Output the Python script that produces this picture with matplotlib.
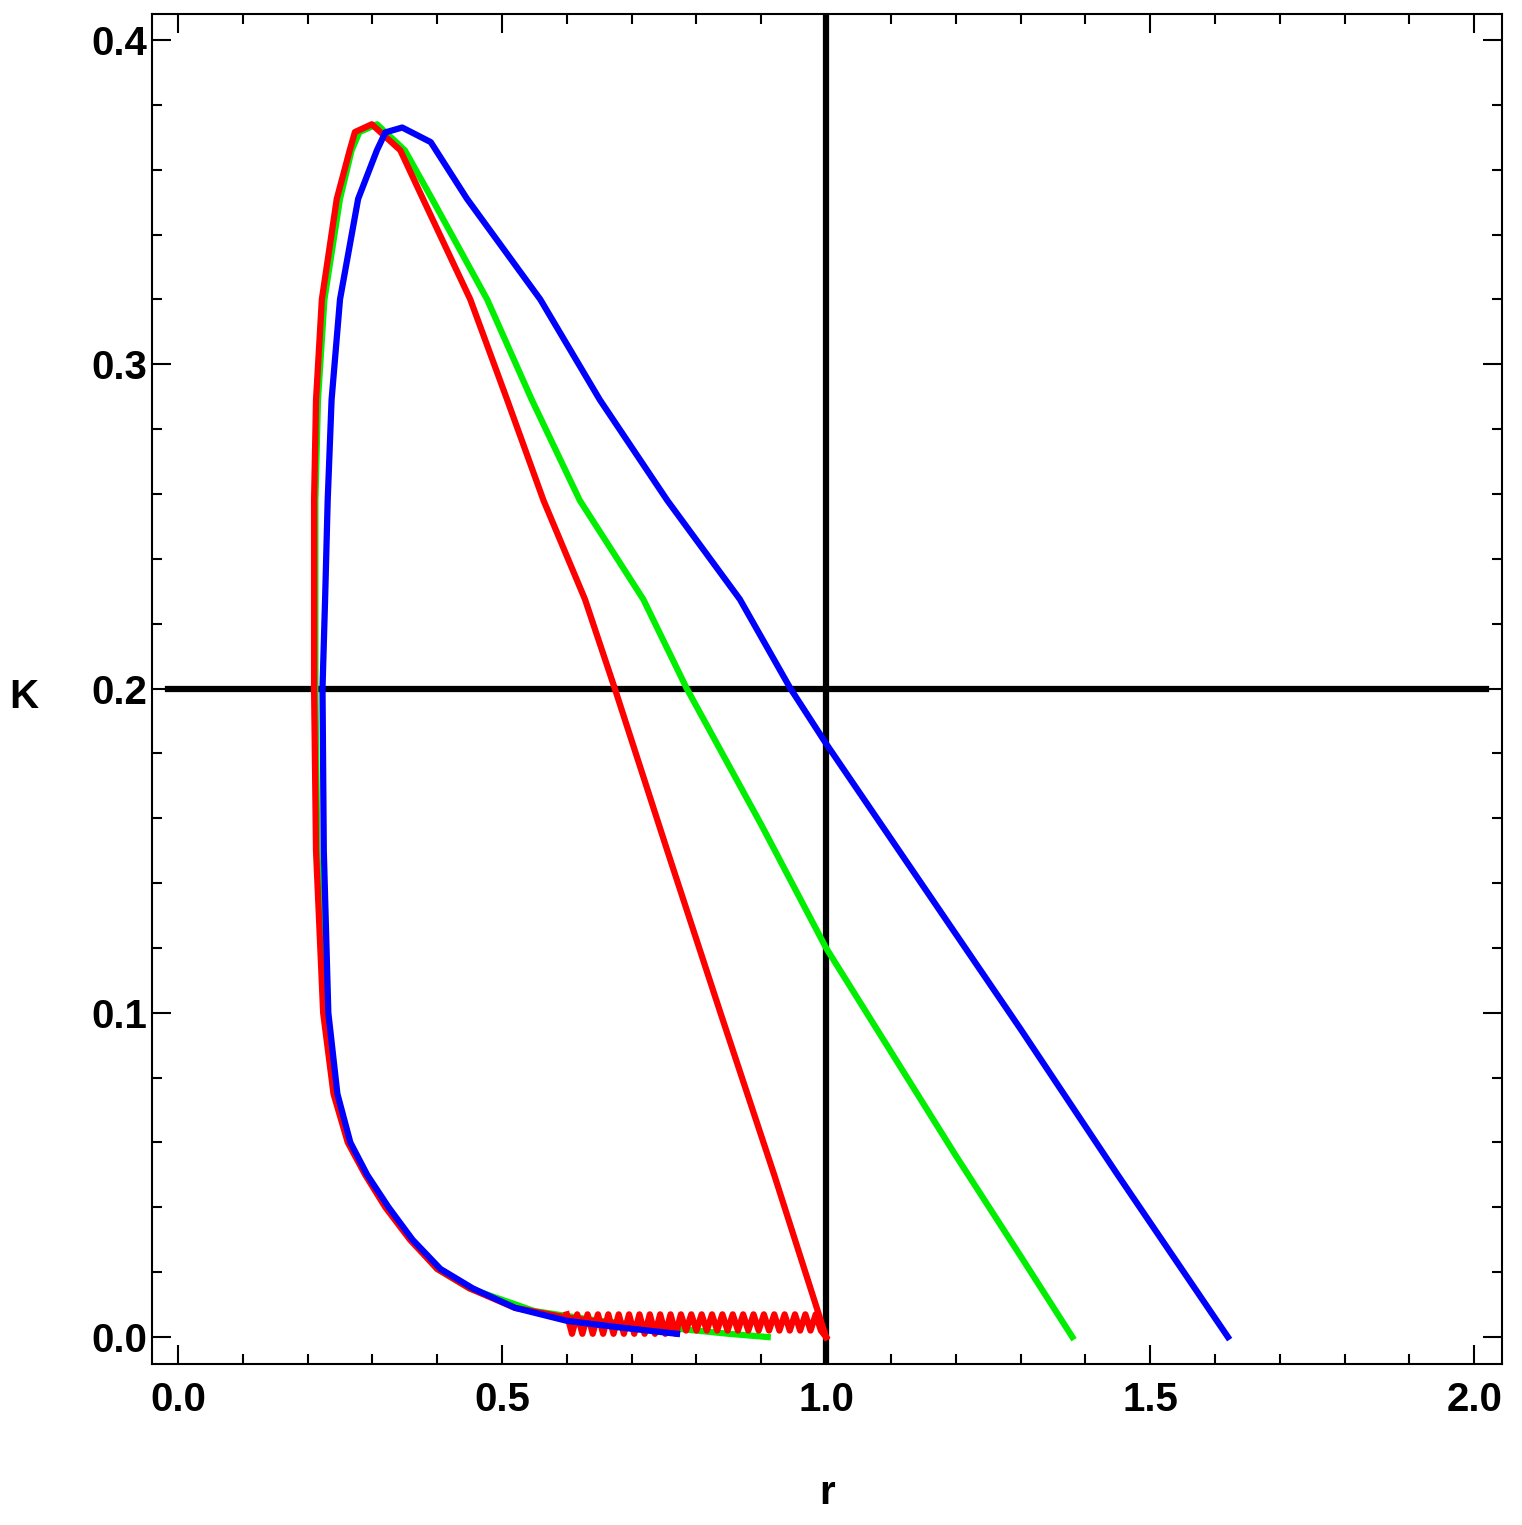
import matplotlib.pyplot as plt

plt.rcParams["font.family"] = ["Liberation Sans", "DejaVu Sans"]

# red branch (right side from r=1 up to the peak, then down the left side)
red_r = [1.0, 0.92, 0.837, 0.755, 0.674, 0.628, 0.564, 0.508, 0.451, 0.378, 0.343, 0.299,
         0.273, 0.265, 0.245, 0.222, 0.213, 0.21, 0.21, 0.213, 0.224, 0.24, 0.262, 0.289,
         0.32, 0.358, 0.4, 0.45, 0.52, 0.6, 0.68, 0.77]
red_k = [0.0, 0.05, 0.1, 0.15, 0.2, 0.2275, 0.258, 0.289, 0.32, 0.351, 0.366, 0.374,
         0.3716, 0.366, 0.351, 0.32, 0.289, 0.258, 0.2, 0.15, 0.1, 0.075, 0.06, 0.05,
         0.04, 0.03, 0.021, 0.015, 0.009, 0.006, 0.004, 0.002]
green_r = [1.38, 1.3, 1.2, 1.1, 1.0, 0.9, 0.785, 0.718, 0.62, 0.546, 0.477, 0.392, 0.35, 0.307,
           0.28, 0.268, 0.25, 0.226, 0.216, 0.212, 0.212, 0.215, 0.226, 0.242, 0.264, 0.291,
           0.322, 0.36, 0.4, 0.45, 0.55, 0.65, 0.75, 0.85, 0.91]
green_k = [0.0, 0.025, 0.056, 0.088, 0.12, 0.158, 0.2, 0.2275, 0.258, 0.289, 0.32, 0.351, 0.366, 0.374,
           0.3716, 0.366, 0.351, 0.32, 0.289, 0.258, 0.2, 0.15, 0.1, 0.075, 0.06, 0.05,
           0.04, 0.03, 0.021, 0.015, 0.008, 0.005, 0.003, 0.001, 0.0]
blue_r = [1.62, 1.45, 1.3, 1.15, 1.0, 0.945, 0.867, 0.755, 0.651, 0.559, 0.446, 0.39, 0.346,
          0.32, 0.307, 0.278, 0.25, 0.237, 0.231, 0.227, 0.223, 0.225, 0.232, 0.246, 0.266,
          0.292, 0.325, 0.362, 0.405, 0.455, 0.52, 0.6, 0.68, 0.77]
blue_k = [0.0, 0.05, 0.095, 0.139, 0.183, 0.2, 0.2275, 0.258, 0.289, 0.32, 0.351, 0.3685, 0.373,
          0.3715, 0.366, 0.351, 0.32, 0.289, 0.258, 0.2275, 0.2, 0.15, 0.1, 0.075, 0.06,
          0.05, 0.04, 0.03, 0.021, 0.015, 0.009, 0.005, 0.003, 0.001]
# numerical jitter band at the bottom of the red curve
zig_r = [0.60, 0.608, 0.616, 0.624, 0.632, 0.640, 0.648, 0.656, 0.664, 0.672, 0.680, 0.688,
         0.696, 0.704, 0.712, 0.720, 0.728, 0.736, 0.744, 0.752, 0.760, 0.768, 0.776, 0.784,
         0.792, 0.800, 0.808, 0.816, 0.824, 0.832, 0.840, 0.848, 0.856, 0.864, 0.872, 0.880,
         0.888, 0.896, 0.904, 0.912, 0.920, 0.928, 0.936, 0.944, 0.952, 0.960, 0.968, 0.976,
         0.984, 0.992, 1.0]
zig_k = [0.007, 0.001, 0.007, 0.001, 0.007, 0.001, 0.007, 0.001, 0.007, 0.001, 0.007, 0.001,
         0.007, 0.001, 0.007, 0.001, 0.007, 0.001, 0.007, 0.001, 0.007, 0.001, 0.007, 0.002,
         0.007, 0.002, 0.007, 0.002, 0.007, 0.002, 0.007, 0.002, 0.007, 0.002, 0.007, 0.002,
         0.007, 0.002, 0.007, 0.002, 0.007, 0.002, 0.007, 0.002, 0.007, 0.002, 0.007, 0.002,
         0.007, 0.002, 0.0]

fig = plt.figure(figsize=(15.22, 15.25), dpi=100)
ax = fig.add_axes([0.0999, 0.1056, 0.8870, 0.8852])

ax.axhline(0.2, xmin=0.012, xmax=0.988, color="black", lw=4.5, zorder=1)
ax.axvline(1.0, color="black", lw=4.5, zorder=1)
ax.plot(zig_r, zig_k, color="red", lw=4.5, zorder=3)
ax.plot(green_r, green_k, color="#00ee00", lw=4.5, zorder=2)
ax.plot(blue_r, blue_k, color="blue", lw=4.5, zorder=4)
ax.plot(red_r, red_k, color="red", lw=4.5, zorder=3)

ax.set_xlim(-0.04, 2.043)
ax.set_ylim(-0.0083, 0.408)
ax.set_xticks([0.0, 0.5, 1.0, 1.5, 2.0])
ax.set_xticks([i * 0.1 for i in range(21)], minor=True)
ax.set_yticks([0.0, 0.1, 0.2, 0.3, 0.4])
ax.set_yticks([i * 0.02 for i in range(21)], minor=True)
ax.xaxis.set_major_formatter(plt.FormatStrFormatter("%.1f"))
ax.yaxis.set_major_formatter(plt.FormatStrFormatter("%.1f"))
ax.tick_params(which="both", direction="in", top=True, right=True, width=1.5, labelsize=29)
ax.tick_params(which="major", length=14)
ax.tick_params(which="minor", length=7)
for lab in ax.get_xticklabels() + ax.get_yticklabels():
    lab.set_fontweight("bold")
ax.tick_params(axis="x", pad=12)
for s in ax.spines.values():
    s.set_linewidth(1.5)
ax.set_xlabel("r", fontsize=29, fontweight="bold", labelpad=40)
ax.set_ylabel("K", fontsize=29, fontweight="bold", rotation=0)
ax.yaxis.set_label_coords(-0.095, 0.48)

fig.savefig("out.png", dpi=100)
